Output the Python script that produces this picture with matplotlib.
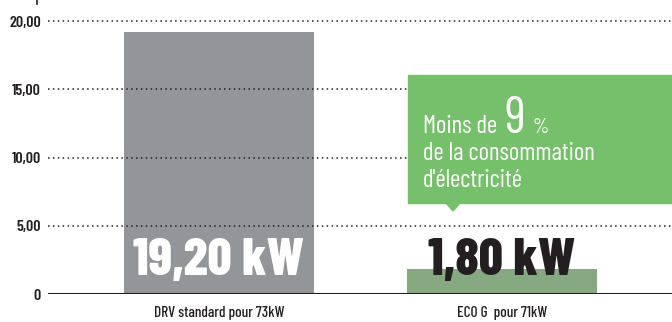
import matplotlib
matplotlib.use("Agg")
import matplotlib.pyplot as plt
from matplotlib.patches import Rectangle, Polygon
from matplotlib.lines import Line2D

plt.rcParams['font.family'] = ['Barlow Condensed', 'DejaVu Sans']

# puissance absorbée (kW)
categories = ["DRV standard pour 73kW", "ECO G  pour 71kW"]
values = [19.20, 1.80]
value_labels = ["19,20 kW", "1,80 kW"]
yticks = [0, 5, 10, 15, 20]
ytick_labels = ["0", "5,00", "10,00", "15,00", "20,00"]
bar_colors = ["#939598", "#87a982"]
label_colors = ["white", "#231f20"]

fig = plt.figure(figsize=(6.72, 3.22), dpi=100)
ax = fig.add_axes([48 / 672, 28 / 322, 1 - 48 / 672, 294 / 322])

x = range(len(categories))
ax.bar(x, values, width=0.671, color=bar_colors, zorder=1)
ax.set_xlim(-0.604, 1.601)
ax.set_ylim(0, 21.54)

# grille pointillée au-dessus des barres
for v in yticks[1:]:
    ax.axhline(v, color="#231f20", lw=1.1, ls=(0, (1, 2.2)), zorder=2)
ax.axhline(0, color="#231f20", lw=1.5, zorder=3)

for s in ax.spines.values():
    s.set_visible(False)
ax.set_yticks(yticks)
ax.set_yticklabels(ytick_labels, fontsize=11.5, fontweight="semibold", color="#231f20")
ax.tick_params(axis="y", length=0, pad=5)
ax.set_xticks(list(x))
ax.set_xticklabels(categories, fontsize=11, fontweight="medium", color="#231f20")
ax.tick_params(axis="x", length=0, pad=9)

for i, (lab, col) in enumerate(zip(value_labels, label_colors)):
    ax.text(i, 1.4, lab, ha="center", va="baseline", fontsize=38,
            fontweight=800, color=col, zorder=5)

# encadré vert
green = "#77c06b"
box_x0 = 408 / 672
box = Rectangle((box_x0, 1 - 203 / 322), 1 - box_x0, 128 / 322,
                transform=fig.transFigure, color=green, zorder=10)
fig.patches.append(box)
tri = Polygon([(446 / 672, 1 - 203 / 322), (460 / 672, 1 - 203 / 322),
               (453 / 672, 1 - 211 / 322)], closed=True,
              transform=fig.transFigure, color=green, zorder=10)
fig.patches.append(tri)

tx = 423 / 672
kw = dict(color="white", va="baseline", zorder=11)
fig.text(tx, 1 - 133 / 322, "Moins de", fontsize=18, **kw)
fig.text(tx + 82 / 672, 1 - 133 / 322, "9", fontsize=37, **kw)
fig.text(tx + 109 / 672, 1 - 133 / 322, "%", fontsize=15, **kw)
fig.text(tx, 1 - 160 / 322, "de la consommation", fontsize=18, **kw)
fig.text(tx, 1 - 187 / 322, "d'électricité", fontsize=18, **kw)

fig.lines.append(Line2D([37 / 672, 37 / 672], [1, 1 - 4 / 322],
                        transform=fig.transFigure, color="#231f20", lw=1.2))

fig.savefig("out.png", dpi=100)
